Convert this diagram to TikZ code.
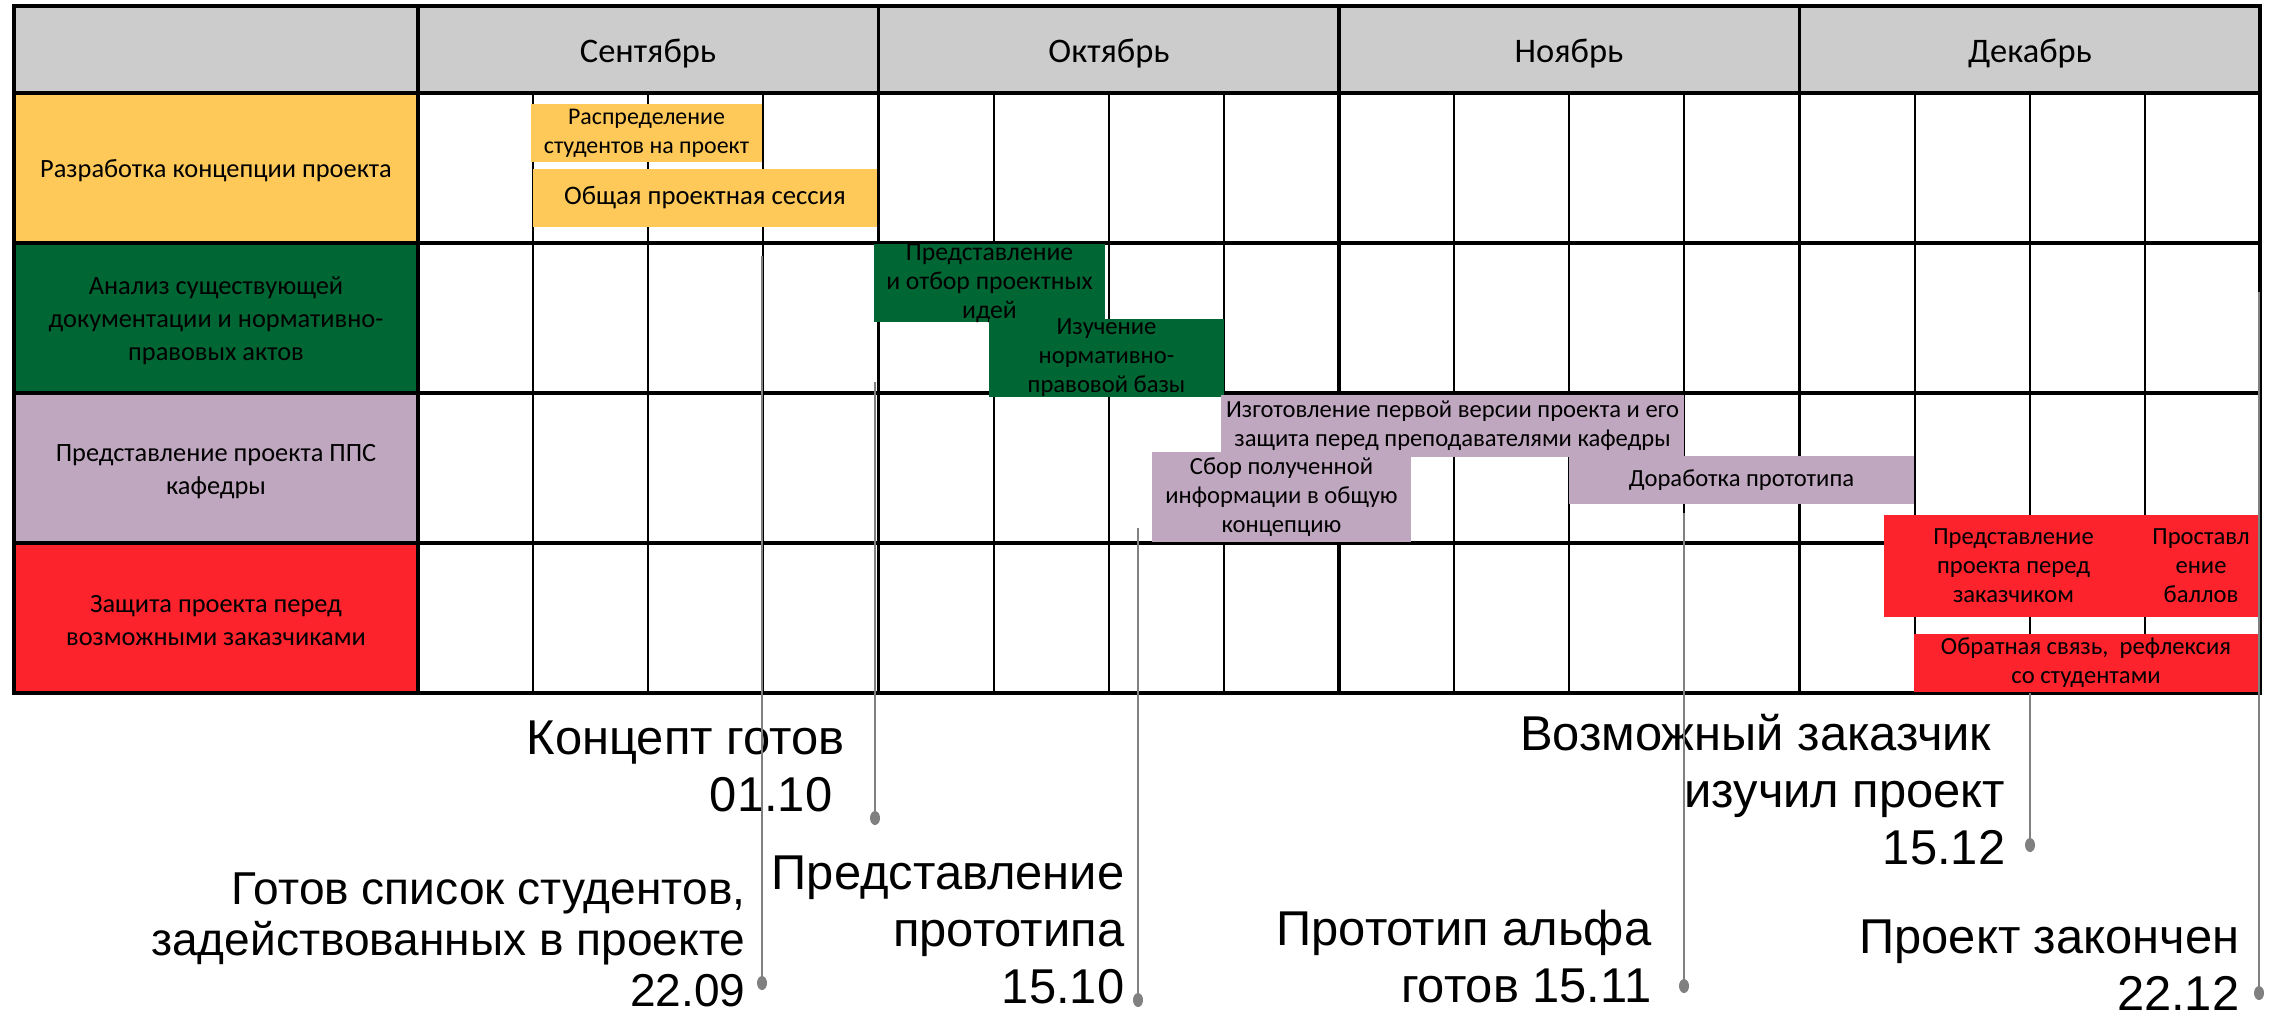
\documentclass[tikz,border=0pt]{standalone}
\usepackage{fontspec}
\setmainfont{Carlito}
\newfontfamily\msfont{Liberation Sans}
\usetikzlibrary{shapes.geometric}

\definecolor{hdrgray}{RGB}{204,204,204}
\definecolor{cyellow}{RGB}{254,201,88}
\definecolor{cgreen}{RGB}{0,102,51}
\definecolor{cpurple}{RGB}{192,167,192}
\definecolor{cred}{RGB}{253,35,45}
\definecolor{msgray}{RGB}{128,128,128}

\begin{document}
\begin{tikzpicture}[%
      x=0.01cm, y=-0.01cm,
      weekline/.style={color=black, line width=0.6pt},
      rowline/.style={color=black, line width=1.1pt},
      monthlabel/.style={inner sep=0pt, font=\fontsize{9.8}{12}\selectfont},
      rowlabel/.style={align=center, inner sep=0pt, font=\fontsize{7.5}{9.4}\selectfont},
      task/.style={align=center, inner sep=0pt, font=\fontsize{7}{8.25}\selectfont},
      msline/.style={color=msgray, line width=0.6pt},
      msdot/.style={ellipse, fill=msgray, inner sep=0pt, minimum width=0.1cm, minimum height=0.14cm},
      mslabel/.style={align=right, inner sep=0pt, font=\msfont\fontsize{13.9}{16.2}\selectfont},
      ]
      \useasboundingbox (0,0) rectangle (2282,1017);

      % header and row label cells
      \fill [hdrgray] (14,6) rectangle (2260,93);
      \fill [cyellow] (14,93) rectangle (418,243);
      \fill [cgreen] (14,243) rectangle (418,393);
      \fill [cpurple] (14,393) rectangle (418,543);
      \fill [cred] (14,543) rectangle (418,693);

      % weeks
      \draw [weekline] (533.1,93) -- (533.1,693);
      \draw [weekline] (648.3,93) -- (648.3,693);
      \draw [weekline] (763.4,93) -- (763.4,693);
      \draw [weekline] (993.6,93) -- (993.6,693);
      \draw [weekline] (1108.8,93) -- (1108.8,693);
      \draw [weekline] (1223.9,93) -- (1223.9,693);
      \draw [weekline] (1454.1,93) -- (1454.1,693);
      \draw [weekline] (1569.3,93) -- (1569.3,693);
      \draw [weekline] (1684.4,93) -- (1684.4,693);
      \draw [weekline] (1914.6,93) -- (1914.6,693);
      \draw [weekline] (2029.8,93) -- (2029.8,693);
      \draw [weekline] (2144.9,93) -- (2144.9,693);

      % rows and months
      \draw [rowline] (14,93) -- (2260,93);
      \draw [rowline] (14,243) -- (2260,243);
      \draw [rowline] (14,393) -- (2260,393);
      \draw [rowline] (14,543) -- (2260,543);
      \draw [rowline] (418,6) -- (418,693);
      \draw [rowline] (878.5,6) -- (878.5,693);
      \draw [rowline] (1339,6) -- (1339,693);
      \draw [rowline] (1799.5,6) -- (1799.5,693);
      \draw [rowline] (14,6) rectangle (2260,693);

      \node [monthlabel] (sep) at (648,54) {Сентябрь};
      \node [monthlabel] (oct) at (1109,54) {Октябрь};
      \node [monthlabel] (nov) at (1569,54) {Ноябрь};
      \node [monthlabel] (dec) at (2030,54) {Декабрь};

      \node [rowlabel] (concept) at (216,171) {Разработка концепции проекта};
      \node [rowlabel] (analysis) at (216,321) {Анализ существующей\\документации и нормативно-\\правовых актов};
      \node [rowlabel] (pps) at (216,472) {Представление проекта ППС\\кафедры};
      \node [rowlabel] (defence) at (216,621) {Защита проекта перед\\возможными заказчиками};

      % milestones
      \coordinate (m2209top) at (762,256);
      \coordinate (m0110top) at (875,382);
      \coordinate (m1510top) at (1138,528);
      \coordinate (m1511top) at (1684,513);
      \coordinate (m1512top) at (2030,693);
      \coordinate (m2212top) at (2259,292);
      \node [msdot] (m2209) at (762,983) {};
      \node [msdot] (m0110) at (875,818) {};
      \node [msdot] (m1510) at (1138,1000) {};
      \node [msdot] (m1511) at (1684,986) {};
      \node [msdot] (m1512) at (2030,845) {};
      \node [msdot] (m2212) at (2259,993) {};

      % tasks
      \node [task, fill=cyellow, minimum width=2.31cm, minimum height=0.58cm, font=\fontsize{6.8}{8.25}\selectfont] (distrib) at (646.5,133) {Распределение\\студентов на проект};
      \node [task, fill=cyellow, minimum width=3.44cm, minimum height=0.58cm, font=\fontsize{7.6}{9}\selectfont] (session) at (705,198) {Общая проектная сессия};
      \node [task, fill=cgreen, minimum width=2.31cm, minimum height=0.77cm, font=\fontsize{7.3}{8.25}\selectfont] (ideas) at (989.5,283) {Представление\\и отбор проектных\\идей};
      \node [task, fill=cgreen, minimum width=2.35cm, minimum height=0.77cm] (norms) at (1106.5,358) {Изучение\\нормативно-\\правовой базы};
      \node [task, fill=cpurple, minimum width=4.63cm, minimum height=0.62cm] (firstver) at (1452.5,426) {Изготовление первой версии проекта и его\\защита перед преподавателями кафедры};
      \node [task, fill=cpurple, minimum width=2.59cm, minimum height=0.89cm] (gather) at (1281.5,497) {Сбор полученной\\информации в общую\\концепцию};
      \node [task, fill=cpurple, minimum width=3.45cm, minimum height=0.48cm] (refine) at (1741.5,480) {Доработка прототипа};
      \node [task, fill=cred, minimum width=2.59cm, minimum height=1.01cm] (present) at (2013.5,566) {Представление\\проекта перед\\заказчиком};
      \node [task, fill=cred, minimum width=1.16cm, minimum height=1.02cm] (marks) at (2201,566) {Проставл\\ение\\баллов};
      \node [task, fill=cred, minimum width=3.44cm, minimum height=0.58cm] (feedback) at (2086,663) {Обратная связь,~ рефлексия\\со студентами};

      % milestone labels
      \node [mslabel, anchor=base east, font=\msfont\fontsize{13.1}{14.4}\selectfont] (l2209) at (746,1006) {Готов список студентов,\\задействованных в проекте\\22.09};
      \node [mslabel, anchor=base east] (l0110) at (845,811) {Концепт готов\\01.10\kern0.12cm};
      \node [mslabel, anchor=base east] (l1510) at (1125,1003) {Представление\\прототипа\\15.10};
      \node [mslabel, anchor=base east] (l1511) at (1652,1002) {Прототип альфа\\готов 15.11};
      \node [mslabel, anchor=base east] (l1512) at (2006,864) {Возможный заказчик\kern0.14cm\\изучил проект\\15.12};
      \node [mslabel, anchor=base east] (l2212) at (2240,1010) {Проект закончен\\22.12};

      \draw [msline] (m2209top) -- (m2209.center);
      \draw [msline] (m0110top) -- (m0110.center);
      \draw [msline] (m1510top) -- (m1510.center);
      \draw [msline] (m1511top) -- (m1511.center);
      \draw [msline] (m1512top) -- (m1512.center);
      \draw [msline] (m2212top) -- (m2212.center);
      \end{tikzpicture}
\end{document}
